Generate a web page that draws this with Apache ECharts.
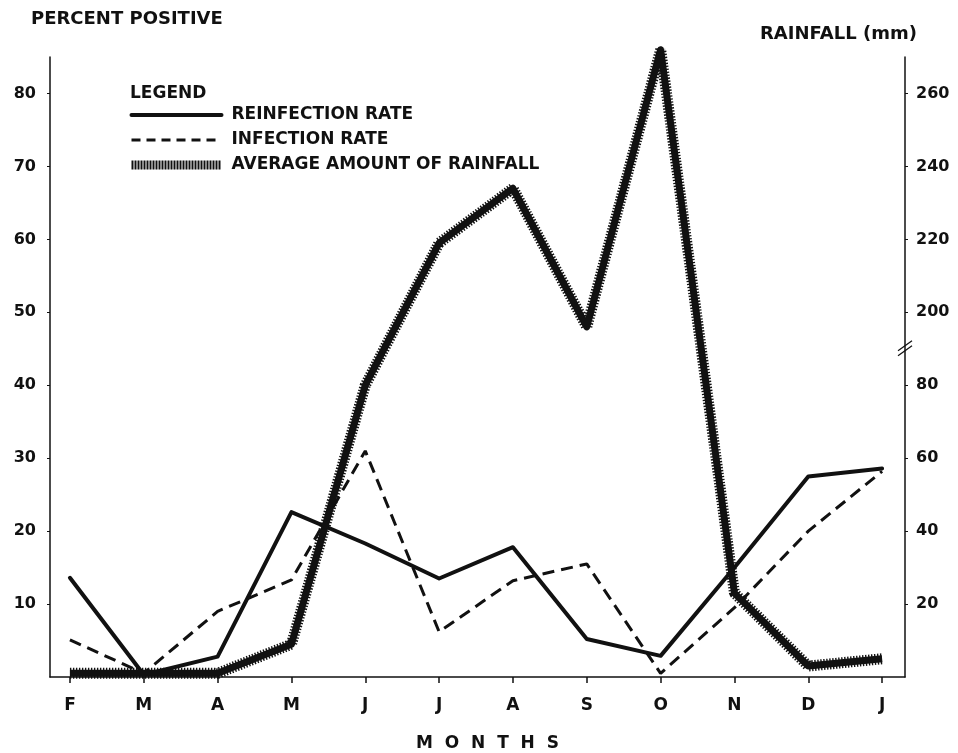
<!DOCTYPE html>
<html>
<head>
<meta charset="utf-8">
<script src="https://cdn.jsdelivr.net/npm/echarts@6/dist/echarts.min.js"></script>
<style>html,body{margin:0;padding:0;background:#fff}#c{width:958px;height:753px}</style>
</head>
<body>
<div id="c"></div>
<script>
// ---- data ----
const months = ['F','M','A','M','J','J','A','S','O','N','D','J'];
const reinfection = [13.6, 0.3, 2.8, 22.6, 18.3, 13.5, 17.8, 5.2, 2.9, 15, 27.5, 28.6];
const infection = [5.1, 0.5, 9, 13.3, 31, 6.2, 13.2, 15.5, 0.5, 9.5, 20, 28.2];
const rainfall = [1, 1, 1, 9, 80, 219, 234, 196, 272, 23, 3, 5];
const leftTicks = [10, 20, 30, 40, 50, 60, 70, 80];
const rightTickLabels = [20, 40, 60, 80, 200, 220, 240, 260];

// broken rainfall scale: 0-80 mm on the lower half, 200-260 mm on the upper part
function rainToScale(r) { return r > 140 ? r / 2 - 50 : r / 2; }

const FONT = 'DejaVu Sans';
const INK = '#111';
const xIdx = months.map((m, i) => i);
const pairs = (arr, f) => arr.map((v, i) => [i, f ? f(v) : v]);

const chart = echarts.init(document.getElementById('c'), null, {renderer: 'canvas'});
const XMIN = -0.27, XMAX = 11.31, YMAX = 85;

const option = {
  backgroundColor: '#fff',
  animation: false,
  textStyle: {fontFamily: FONT, color: INK},
  title: [
    {text: 'PERCENT POSITIVE', left: 26, top: 5,
     textStyle: {fontFamily: FONT, fontWeight: 'bold', fontSize: 18, color: INK}},
    {text: 'RAINFALL (mm)', left: 755, top: 20,
     textStyle: {fontFamily: FONT, fontWeight: 'bold', fontSize: 18, color: INK}},
    {text: 'LEGEND', left: 125, top: 80,
     textStyle: {fontFamily: FONT, fontWeight: 'bold', fontSize: 17, color: INK}}
  ],
  legend: {
    orient: 'vertical', left: 122, top: 100,
    itemWidth: 90, itemHeight: 14, itemGap: 5,
    selectedMode: false,
    itemStyle: {opacity: 0, borderWidth: 0},
    textStyle: {fontFamily: FONT, fontWeight: 'bold', fontSize: 17, color: INK,
                padding: [0, 0, 0, 5], lineHeight: 20},
    data: [
      {name: 'REINFECTION RATE', lineStyle: {width: 4, color: INK, type: 'solid'}},
      {name: 'INFECTION RATE', lineStyle: {width: 3, color: INK, type: [9, 6]}},
      {name: 'AVERAGE AMOUNT OF RAINFALL', lineStyle: {width: 9, color: INK, type: [2, 1]}}
    ]
  },
  grid: {left: 50, right: 53, top: 57, bottom: 76, containLabel: false, outerBoundsMode: 'none'},
  xAxis: {
    type: 'value', min: XMIN, max: XMAX,
    name: 'M  O  N  T  H  S', nameLocation: 'middle', nameGap: 58,
    nameTextStyle: {fontFamily: FONT, fontWeight: 'bold', fontSize: 17, color: INK, padding: [0, 0, 0, 20]},
    axisLine: {show: true, onZero: false, lineStyle: {color: INK, width: 1.5}},
    axisTick: {show: true, customValues: xIdx, length: 6, lineStyle: {color: INK, width: 1.5}},
    axisLabel: {customValues: xIdx, margin: 20, formatter: v => months[Math.round(v)],
                fontFamily: FONT, fontWeight: 'bold', fontSize: 17, color: INK},
    splitLine: {show: false}
  },
  yAxis: [
    {
      type: 'value', min: 0, max: YMAX, position: 'left',
      axisLine: {show: true, onZero: false, lineStyle: {color: INK, width: 1.5}},
      axisTick: {show: true, customValues: leftTicks, length: 3, lineStyle: {color: INK}},
      axisLabel: {customValues: leftTicks, margin: 14,
                  fontFamily: FONT, fontWeight: 'bold', fontSize: 16, color: INK},
      splitLine: {show: false}
    },
    {
      type: 'value', min: 0, max: YMAX, position: 'right',
      axisLine: {show: true, onZero: false, lineStyle: {color: INK, width: 1.5}},
      axisTick: {show: true, customValues: leftTicks, length: 3, lineStyle: {color: INK}},
      axisLabel: {customValues: leftTicks, margin: 11,
                  formatter: v => String(rightTickLabels[leftTicks.indexOf(Math.round(v))]),
                  fontFamily: FONT, fontWeight: 'bold', fontSize: 16, color: INK},
      splitLine: {show: false}
    }
  ],
  series: [
    {
      name: 'REINFECTION RATE', type: 'line', yAxisIndex: 0,
      data: pairs(reinfection), symbol: 'none',
      lineStyle: {color: INK, width: 4, cap: 'round', join: 'round'}
    },
    {
      name: 'INFECTION RATE', type: 'line', yAxisIndex: 0,
      data: pairs(infection), symbol: 'none',
      lineStyle: {color: INK, width: 3, type: [12, 7]}
    },
    {
      name: 'AVERAGE AMOUNT OF RAINFALL', type: 'line', yAxisIndex: 1,
      data: pairs(rainfall, rainToScale), symbol: 'none', clip: false,
      lineStyle: {color: INK, width: 11, type: [1.4, 1.6]}
    },
    {
      name: 'AVERAGE AMOUNT OF RAINFALL', type: 'line', yAxisIndex: 1,
      data: pairs(rainfall, rainToScale), symbol: 'none', clip: false,
      lineStyle: {color: INK, width: 7, join: 'round'}
    }
  ]
};
chart.setOption(option);

// axis break mark "//" on the rainfall axis between 80 and 200 mm
const bp = chart.convertToPixel({gridIndex: 0}, [XMAX, 45]);
chart.setOption({
  graphic: [
    {type: 'line', shape: {x1: bp[0] - 7, y1: bp[1] + 2, x2: bp[0] + 7, y2: bp[1] - 8},
     style: {stroke: INK, lineWidth: 1.3}},
    {type: 'line', shape: {x1: bp[0] - 7, y1: bp[1] + 7, x2: bp[0] + 7, y2: bp[1] - 3},
     style: {stroke: INK, lineWidth: 1.3}}
  ]
});
</script>
</body>
</html>
